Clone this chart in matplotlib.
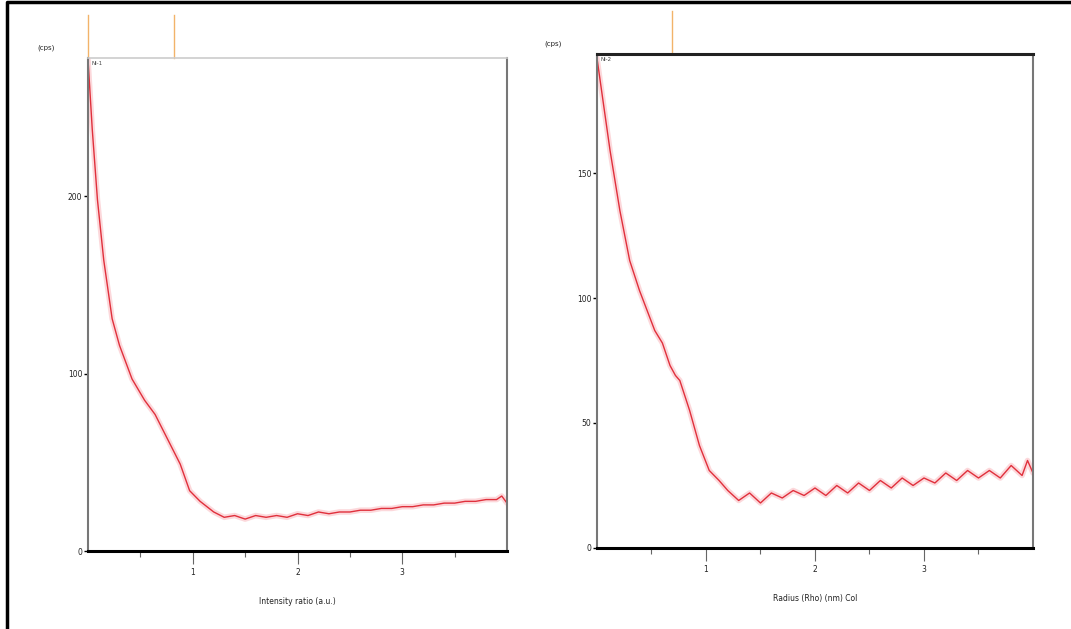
#!/usr/bin/python
# -*- coding: utf-8 -*-

"""
两条衰减曲线 (左右两幅)
"""

import matplotlib
matplotlib.use('Agg')
import matplotlib.pyplot as plt
from matplotlib.lines import Line2D
import matplotlib.transforms as mtransforms

# 左图数据
left_x = [0.0, 0.04, 0.09, 0.15, 0.23, 0.30, 0.42, 0.54, 0.64, 0.76, 0.88, 0.97,
          1.07, 1.2, 1.3, 1.4, 1.5, 1.6, 1.7, 1.8, 1.9, 2.0, 2.1, 2.2, 2.3, 2.4,
          2.5, 2.6, 2.7, 2.8, 2.9, 3.0, 3.1, 3.2, 3.3, 3.4, 3.5, 3.6, 3.7, 3.8,
          3.9, 3.95, 4.0]
left_y = [277, 238, 198, 164, 131, 116, 97, 85, 77, 63, 49, 34,
          28, 22, 19, 20, 18, 20, 19, 20, 19, 21, 20, 22, 21, 22,
          22, 23, 23, 24, 24, 25, 25, 26, 26, 27, 27, 28, 28, 29,
          29, 31, 27]
left_marks = [0.0, 0.82]

# 右图数据
right_x = [0.0, 0.055, 0.12, 0.21, 0.30, 0.39, 0.53, 0.60, 0.67, 0.72, 0.76, 0.85,
           0.94, 1.03, 1.12, 1.2, 1.3, 1.4, 1.5, 1.6, 1.7, 1.8, 1.9, 2.0, 2.1,
           2.2, 2.3, 2.4, 2.5, 2.6, 2.7, 2.8, 2.9, 3.0, 3.1, 3.2, 3.3, 3.4, 3.5,
           3.6, 3.7, 3.8, 3.9, 3.95, 4.0]
right_y = [196, 179, 159, 135, 115, 103, 87, 82, 73, 69, 67, 55,
           41, 31, 27, 23, 19, 22, 18, 22, 20, 23, 21, 24, 21,
           25, 22, 26, 23, 27, 24, 28, 25, 28, 26, 30, 27, 31, 28,
           31, 28, 33, 29, 35, 30]
right_marks = [0.69]

x_major = [1, 2, 3]
x_minor = [0.5, 1.5, 2.5, 3.5]
left_yticks = [0, 100, 200]
right_yticks = [0, 50, 100, 150]


def draw_panel(ax, x, y, ymax, yticks, marks, xlabel, tag, top_dark):
    """画一幅"""
    ax.plot(x, y, color='#fbc8cc', lw=4, alpha=0.7, solid_capstyle='round')
    ax.plot(x, y, color='#e0303c', lw=1.0)
    ax.set_xlim(0, 4.0)
    ax.set_ylim(0, ymax)

    ax.set_xticks(x_major)
    ax.set_xticklabels([str(v) for v in x_major])
    ax.set_xticks(x_minor, minor=True)
    ax.set_yticks(yticks)
    ax.set_yticklabels([str(v) for v in yticks])
    ax.tick_params(axis='x', which='major', direction='out', length=9,
                   width=0.8, color='#666666', labelsize=5.5, labelcolor='#222222')
    ax.tick_params(axis='x', which='minor', direction='out', length=4,
                   width=0.8, color='#666666')
    ax.tick_params(axis='y', direction='out', length=3, width=1.0,
                   color='black', labelsize=5.5, labelcolor='#222222', pad=1)

    ax.spines['bottom'].set_color('black')
    ax.spines['bottom'].set_linewidth(2.2)
    ax.spines['left'].set_color('#777777')
    ax.spines['left'].set_linewidth(1.5)
    ax.spines['right'].set_color('#777777')
    ax.spines['right'].set_linewidth(1.5)
    if top_dark:
        ax.spines['top'].set_color('#222222')
        ax.spines['top'].set_linewidth(2.2)
    else:
        ax.spines['top'].set_color('#cccccc')
        ax.spines['top'].set_linewidth(1.2)

    ax.set_xlabel(xlabel, fontsize=5.5, color='#222222', labelpad=14)
    ax.text(0.008, 0.993, tag, transform=ax.transAxes, fontsize=4,
            color='#444444', va='top', ha='left')
    ax.text(-0.12, 1.02, '(cps)', transform=ax.transAxes, fontsize=5,
            color='#222222', va='center', ha='left')

    # 顶部的标记线
    trans = mtransforms.blended_transform_factory(ax.transData, ax.transAxes)
    for m in marks:
        ax.add_line(Line2D([m, m], [1.0, 1.087], transform=trans,
                           color='#f2b36a', lw=1.0, clip_on=False))


def main():
    fig = plt.figure(figsize=(10.71, 6.29), dpi=100)
    fig.patch.set_facecolor('white')

    ax1 = fig.add_axes([0.0822, 0.124, 0.3912, 0.7838])
    draw_panel(ax1, left_x, left_y, 278, left_yticks, left_marks,
               'Intensity ratio (a.u.)', 'Ni-1', False)

    ax2 = fig.add_axes([0.5574, 0.1288, 0.4071, 0.7853])
    draw_panel(ax2, right_x, right_y, 197.6, right_yticks, right_marks,
               'Radius (Rho) (nm) Col', 'Ni-2', True)

    # 外框 (左边和上边)
    fig.add_artist(Line2D([6.5 / 1071, 6.5 / 1071, 1.0], [0.0, 1 - 2 / 629, 1 - 2 / 629],
                          transform=fig.transFigure, color='black', lw=2.5))

    fig.savefig('out.png', dpi=100)


if __name__ == '__main__':
    main()
